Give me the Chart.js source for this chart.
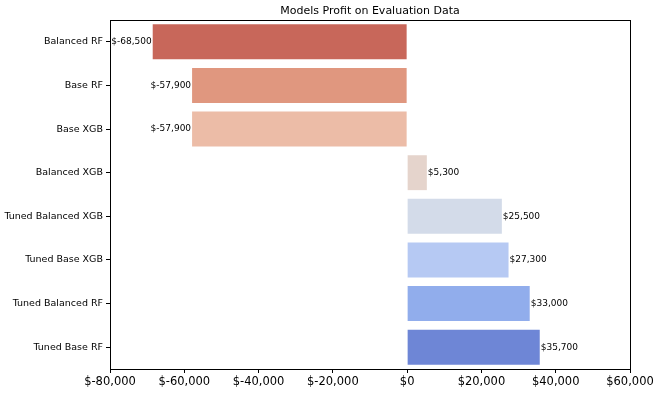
<!DOCTYPE html>
<html>
<head>
<meta charset="utf-8">
<script src="https://cdn.jsdelivr.net/npm/chart.js@4/dist/chart.umd.min.js"></script>
<style>
html,body{margin:0;padding:0;background:#fff;}
#wrap{width:660px;height:394px;}
</style>
</head>
<body>
<div id="wrap"><canvas id="c" width="660" height="394"></canvas></div>
<script>
const categories = ["Balanced RF","Base RF","Base XGB","Balanced XGB","Tuned Balanced XGB","Tuned Base XGB","Tuned Balanced RF","Tuned Base RF"];
const profits = [-68500,-57900,-57900,5300,25500,27300,33000,35700];
const barColors = ["#c8675a","#e0977f","#ecbca7","#e5d4cc","#d3dbe9","#b6c9f3","#91adec","#6e86d6"];
const xTicks = [-80000,-60000,-40000,-20000,0,20000,40000,60000];
const titleText = "Models Profit on Evaluation Data";
const FONT = "'DejaVu Sans', sans-serif";

function money(v){ return "$" + Number(v).toLocaleString("en-US"); }

const decor = {
  id: "decor",
  afterDatasetsDraw(chart){
    const ctx = chart.ctx;
    const a = chart.chartArea;
    ctx.save();
    // frame
    ctx.strokeStyle = "#000";
    ctx.lineWidth = 1;
    ctx.strokeRect(Math.round(a.left)+0.5, Math.round(a.top)+0.5, Math.round(a.right-a.left), Math.round(a.bottom-a.top));
    // title
    ctx.fillStyle = "#000";
    ctx.font = "11px " + FONT;
    ctx.textAlign = "center";
    ctx.textBaseline = "middle";
    ctx.fillText(titleText, (a.left + a.right)/2, 11);
    // value labels
    const meta = chart.getDatasetMeta(0);
    ctx.font = "9px " + FONT;
    meta.data.forEach((bar, i) => {
      const v = profits[i];
      const p = bar.getProps(["x","y"], true);
      if (v < 0){ ctx.textAlign = "right"; ctx.fillText(money(v), p.x - 1, p.y); }
      else { ctx.textAlign = "left"; ctx.fillText(money(v), p.x + 1, p.y); }
    });
    ctx.restore();
  }
};

new Chart(document.getElementById("c"), {
  type: "bar",
  data: {
    labels: categories,
    datasets: [{
      data: profits,
      backgroundColor: barColors,
      borderWidth: 0,
      barPercentage: 0.8,
      categoryPercentage: 1.0
    }]
  },
  options: {
    indexAxis: "y",
    responsive: false,
    animation: false,
    devicePixelRatio: 1,
    layout: { padding: { top: 20, right: 30, left: 0, bottom: 0 } },
    plugins: { legend: { display: false }, title: { display: false }, tooltip: { enabled: false } },
    scales: {
      x: {
        type: "linear",
        min: -80000,
        max: 60000,
        afterBuildTicks(scale){ scale.ticks = xTicks.map(v => ({ value: v })); },
        afterFit(scale){ scale.height = 25; },
        grid: { drawOnChartArea: false, drawTicks: true, tickLength: 4, color: "#000", lineWidth: 1 },
        border: { display: true, color: "#000", width: 1 },
        ticks: { color: "#000", font: { family: FONT, size: 11.5 }, padding: 2, maxRotation: 0, callback: v => money(v) }
      },
      y: {
        afterFit(scale){ scale.width = 110; },
        grid: { offset: false, drawOnChartArea: false, drawTicks: true, tickLength: 4, color: "#000", lineWidth: 1 },
        border: { display: true, color: "#000", width: 1 },
        ticks: { color: "#000", font: { family: FONT, size: 9.5 }, padding: 3 }
      }
    }
  },
  plugins: [decor]
});
</script>
</body>
</html>
